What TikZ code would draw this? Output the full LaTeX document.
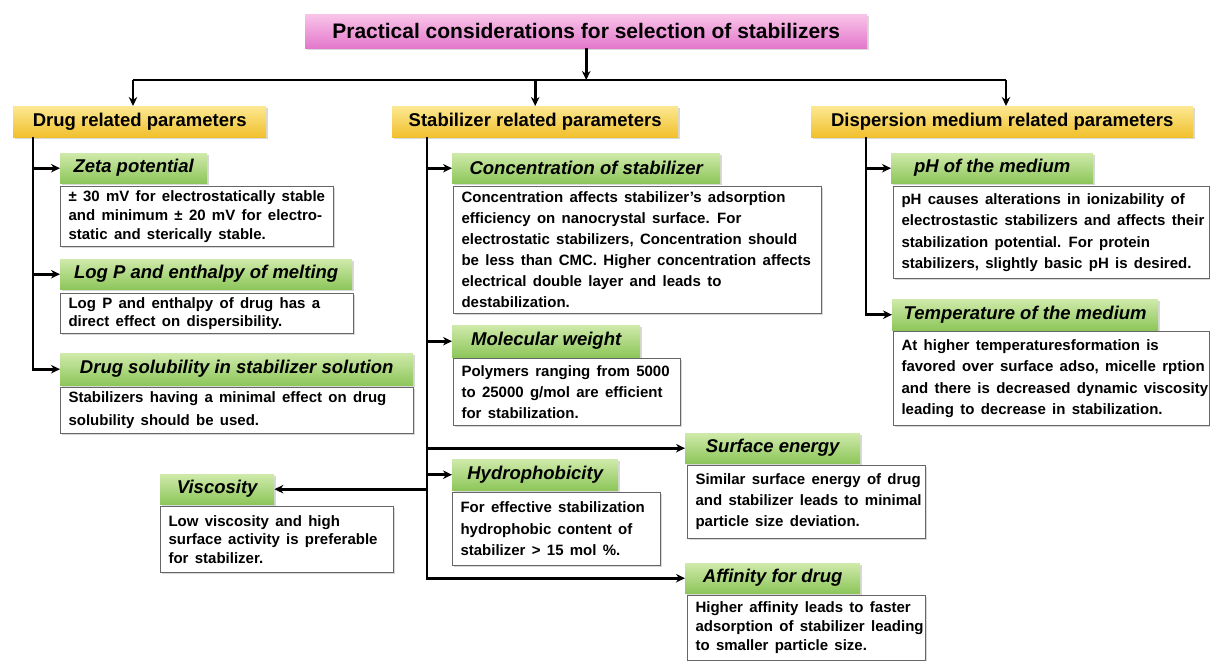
\documentclass[tikz,border=0pt]{standalone}
\usepackage{fontspec}
\setmainfont{Liberation Sans}
\usetikzlibrary{arrows.meta,shadows,calc}
\definecolor{pinkT}{HTML}{F9C4E8}
\definecolor{pinkB}{HTML}{E378CC}
\definecolor{yelT}{HTML}{FCE892}
\definecolor{yelB}{HTML}{F1C02C}
\definecolor{grnT}{HTML}{CFEAAA}
\definecolor{grnB}{HTML}{8DC65A}
\definecolor{descline}{HTML}{666666}
\newcommand\dl[1]{\mbox{\spaceskip=0.42em plus 0.1em\relax #1}}
\begin{document}
\begin{tikzpicture}[x=1pt,y=-1pt,
  shd/.style={drop shadow={shadow xshift=1.5pt,shadow yshift=-1.8pt,opacity=0.3,fill=gray}},
  titlebox/.style={shd,top color=pinkT,bottom color=pinkB,draw=none,inner sep=2pt,anchor=north west,
    font=\bfseries\fontsize{21}{24}\selectfont},
  yelbox/.style={shd,top color=yelT,bottom color=yelB,draw=none,inner sep=2pt,anchor=north west,
    minimum height=31,font=\bfseries\fontsize{18.5}{20}\selectfont},
  grnbox/.style={shd,top color=grnT,bottom color=grnB,draw=none,inner sep=2pt,anchor=north west,
    font=\bfseries\itshape\fontsize{18.5}{20}\selectfont},
  desc/.style={shd,fill=white,draw=descline,line width=1.1pt,anchor=north west,inner xsep=8,inner ysep=3,
    align=left,font=\bfseries\fontsize{15}{#1}\selectfont},
  desc/.default=20,
  ln/.style={line width=2.8pt},
  arr/.style={line width=2.8pt,-{Stealth[length=9pt,width=8.5pt]}}
]
\useasboundingbox[fill=white] (0,0) rectangle (1210,661);

% title
\node[titlebox,minimum width=562,minimum height=34] (title) at (305,14)
  {Practical considerations for selection of stabilizers};

% level 1
\node[yelbox,minimum width=253] (drug) at (13,106) {Drug related parameters};
\node[yelbox,minimum width=286] (stab) at (392,106) {Stabilizer related parameters};
\node[yelbox,minimum width=382] (disp) at (811,106) {Dispersion medium related parameters};

% drug branch
\node[grnbox,minimum width=147,minimum height=30] (zeta) at (60,153) {Zeta potential};
\node[desc=19,text width=257,minimum height=60] (zetad) at (60,186)
  {\dl{± 30 mV for electrostatically stable}\\\dl{and minimum ± 20 mV for electro-}\\\dl{static and sterically stable.}};
\node[grnbox,minimum width=292,minimum height=30] (logp) at (60,259) {Log P and enthalpy of melting};
\node[desc=18,text width=277,minimum height=40] (logpd) at (60,293)
  {\dl{Log P and enthalpy of drug has a}\\\dl{direct effect on dispersibility.}};
\node[grnbox,minimum width=353,minimum height=32] (dsol) at (60,353) {Drug solubility in stabilizer solution};
\node[desc=23,text width=337,minimum height=46] (dsold) at (60,387)
  {\dl{Stabilizers having a minimal effect on drug}\\\dl{solubility should be used.}};

% stabilizer branch
\node[grnbox,minimum width=268,minimum height=30] (conc) at (452,153) {Concentration of stabilizer};
\node[desc=21,text width=352,minimum height=127] (concd) at (453,186)
  {\dl{Concentration affects stabilizer’s adsorption}\\\dl{efficiency on nanocrystal surface. For}\\\dl{electrostatic stabilizers, Concentration should}\\\dl{be less than CMC. Higher concentration affects}\\\dl{electrical double layer and leads to}\\\dl{destabilization.}};
\node[grnbox,minimum width=188,minimum height=32] (molw) at (452,325) {Molecular weight};
\node[desc=21,text width=211,minimum height=67] (molwd) at (453,358)
  {\dl{Polymers ranging from 5000}\\\dl{to 25000 g/mol are efficient}\\\dl{for stabilization.}};
\node[grnbox,minimum width=175,minimum height=30] (surf) at (685,433) {Surface energy};
\node[desc=21,text width=222,minimum height=73] (surfd) at (687,465)
  {\dl{Similar surface energy of drug}\\\dl{and stabilizer leads to minimal}\\\dl{particle size deviation.}};
\node[grnbox,minimum width=166,minimum height=31] (hydro) at (452,459) {Hydrophobicity};
\node[desc=21.5,text width=192,minimum height=73] (hydrod) at (452,492)
  {\dl{For effective stabilization}\\\dl{hydrophobic content of}\\\dl{stabilizer > 15 mol \%.}};
\node[grnbox,minimum width=114,minimum height=30] (visc) at (160,474) {Viscosity};
\node[desc=18.5,text width=217,minimum height=66] (viscd) at (160,506)
  {\dl{Low viscosity and high}\\\dl{surface activity is preferable}\\\dl{for stabilizer.}};
\node[grnbox,minimum width=175,minimum height=30] (aff) at (685,563) {Affinity for drug};
\node[desc=19,text width=222,minimum height=65] (affd) at (687,595)
  {\dl{Higher affinity leads to faster}\\\dl{adsorption of stabilizer leading}\\\dl{to smaller particle size.}};

% dispersion branch
\node[grnbox,minimum width=202,minimum height=30] (ph) at (891,153) {pH of the medium};
\node[desc=21.5,text width=300,minimum height=92] (phd) at (893,186)
  {\dl{pH causes alterations in ionizability of}\\\dl{electrostastic stabilizers and affects their}\\\dl{stabilization potential. For protein}\\\dl{stabilizers, slightly basic pH is desired.}};
\node[grnbox,minimum width=266,minimum height=31] (temp) at (892,299) {Temperature of the medium};
\node[desc=21.5,text width=300,minimum height=94] (tempd) at (893,331)
  {\dl{At higher temperaturesformation is}\\\dl{favored over surface adso, micelle rption}\\\dl{and there is decreased dynamic viscosity}\\\dl{leading to decrease in stabilization.}};

% connectors: top bus
\coordinate (bL) at (133,80);
\coordinate (bR) at (1006,80);
\draw[ln] (bL) -- (bR);
\draw[arr] (title.south) -- (title.south |- bL);
\draw[arr] (bL) -- (bL |- drug.north);
\draw[arr] (stab.north |- bL) -- (stab.north);
\draw[arr] (bR) -- (bR |- disp.north);

% drug trunk
\coordinate (tL) at (33,137);
\draw[arr] (tL) |- (dsol.west);
\draw[arr] (tL |- zeta.west) -- (zeta.west);
\draw[arr] (tL |- logp.west) -- (logp.west);

% stabilizer trunk
\coordinate (tM) at (427,137);
\draw[arr] (tM) |- (aff.west);
\draw[arr] (tM |- conc.west) -- (conc.west);
\draw[arr] (tM |- molw.west) -- (molw.west);
\draw[arr] (tM |- surf.west) -- (surf.west);
\draw[arr] (tM |- hydro.west) -- (hydro.west);
\draw[arr] (tM |- visc.east) -- (visc.east);

% dispersion trunk
\coordinate (tR) at (866,137);
\draw[arr] (tR) |- (temp.west);
\draw[arr] (tR |- ph.west) -- (ph.west);
\end{tikzpicture}
\end{document}
